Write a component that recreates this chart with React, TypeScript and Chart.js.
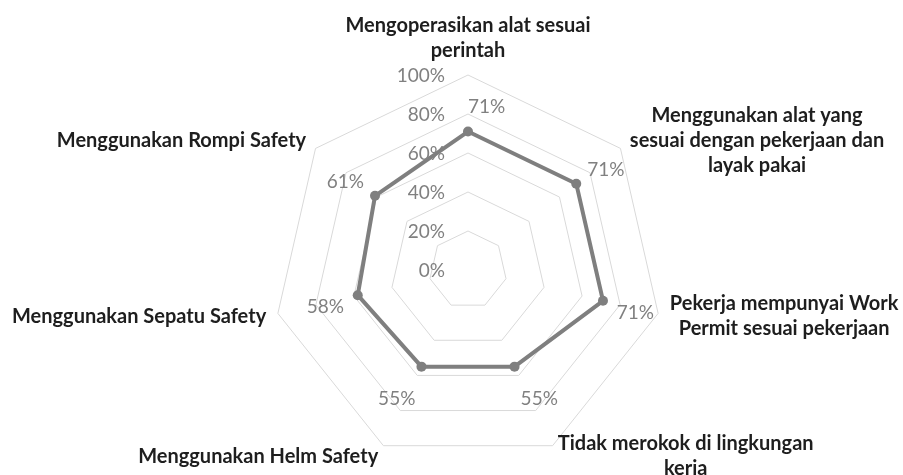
import React, { useEffect, useRef } from "react";
import { Chart, registerables } from "chart.js";

Chart.register(...registerables);

// ---- data ----
const categories: string[][] = [
  ["Mengoperasikan alat sesuai", "perintah"],
  ["Menggunakan alat yang", "sesuai dengan pekerjaan dan", "layak pakai"],
  ["Pekerja mempunyai Work", "Permit sesuai pekerjaan"],
  ["Tidak merokok di lingkungan", "kerja"],
  ["Menggunakan Helm Safety"],
  ["Menggunakan Sepatu Safety"],
  ["Menggunakan Rompi Safety"],
];
const values: number[] = [71, 71, 71, 55, 55, 58, 61];
const axisMin = 0;
const axisMax = 100;
const axisStep = 20;
const tickSuffix = "%";

// ---- styles ----
const LINE_COLOR = "#7f7f7f";
const TEXT_GREY = "#808080";
const LABEL_COLOR = "#1e1e1e";
const GRID_COLOR = "#d9d9d9";
const LABEL_FONT = "bold 20px Lato";
const LABEL_LINE_HEIGHT = 25;
const SMALL_FONT = "19px Lato";

const tickLabelPlugin = {
  id: "tickLabelsLeft",
  afterDraw(chart: any) {
    const scale = chart.scales.r;
    const ctx = chart.ctx;
    ctx.save();
    ctx.font = SMALL_FONT;
    ctx.fillStyle = TEXT_GREY;
    ctx.textAlign = "right";
    ctx.textBaseline = "middle";
    scale.ticks.forEach((t: any) => {
      const d = scale.getDistanceFromCenterForValue(t.value);
      ctx.fillText(t.label, scale.xCenter - 23, scale.yCenter - d + 1);
    });
    ctx.restore();
  },
};

const pointLabelPlugin = {
  id: "pointLabelsCentered",
  afterDraw(chart: any) {
    const scale = chart.scales.r;
    const ctx = chart.ctx;
    const labels: string[][] = chart.data.labels;
    ctx.save();
    ctx.font = LABEL_FONT;
    ctx.fillStyle = LABEL_COLOR;
    ctx.textAlign = "center";
    ctx.textBaseline = "middle";
    labels.forEach((lines, i) => {
      const p = scale.getPointPosition(i, scale.drawingArea + 12);
      const dx = Math.cos(p.angle);
      const dy = Math.sin(p.angle);
      const w = Math.max(...lines.map((l) => ctx.measureText(l).width));
      const h = lines.length * LABEL_LINE_HEIGHT;
      let cx = p.x;
      if (dx > 0.05) cx = p.x + w / 2;
      else if (dx < -0.05) cx = p.x - w / 2;
      let top = p.y - h / 2;
      if (dy < -0.95) top = p.y - h;
      else if (dy > 0.95) top = p.y;
      lines.forEach((l, k) => {
        ctx.fillText(l, cx, top + LABEL_LINE_HEIGHT * (k + 0.5));
      });
    });
    ctx.restore();
  },
};

const dataLabelPlugin = {
  id: "dataLabelsRadar",
  afterDatasetsDraw(chart: any) {
    const ctx = chart.ctx;
    const meta = chart.getDatasetMeta(0);
    const data = chart.data.datasets[0].data;
    ctx.save();
    ctx.font = SMALL_FONT;
    ctx.fillStyle = TEXT_GREY;
    ctx.textBaseline = "middle";
    meta.data.forEach((pt: any, i: number) => {
      const ang = pt.angle !== undefined ? pt.angle : 0;
      const props = pt.getProps(["x", "y", "angle"], true);
      const a = props.angle ?? ang;
      const dx = Math.cos(a);
      const dy = Math.sin(a);
      ctx.textAlign = dx >= -0.05 ? "left" : "right";
      ctx.fillText(data[i] + tickSuffix, props.x + 14 * dx, props.y + 30 * dy + 5);
    });
    ctx.restore();
  },
};

export default function App() {
  const ref = useRef<HTMLCanvasElement | null>(null);
  useEffect(() => {
    document.body.style.margin = "0";
    if (!ref.current) return;
    const chart = new Chart(ref.current, {
      type: "radar",
      data: {
        labels: categories as any,
        datasets: [
          {
            data: values,
            borderColor: LINE_COLOR,
            backgroundColor: LINE_COLOR,
            borderWidth: 4,
            borderJoinStyle: "round",
            pointRadius: 5,
            pointBackgroundColor: LINE_COLOR,
            pointBorderColor: LINE_COLOR,
            pointBorderWidth: 0,
            fill: false,
            tension: 0,
          },
        ],
      },
      options: {
        animation: false,
        responsive: true,
        maintainAspectRatio: false,
        layout: { padding: { top: 75, bottom: 10, left: 33, right: 0 } },
        plugins: { legend: { display: false }, tooltip: { enabled: false } },
        scales: {
          r: {
            min: axisMin,
            max: axisMax,
            ticks: {
              stepSize: axisStep,
              display: false,
              callback: (v: any) => v + tickSuffix,
            },
            grid: { color: GRID_COLOR, lineWidth: 1 },
            angleLines: { display: false },
            pointLabels: { display: false },
          },
        },
      },
      plugins: [tickLabelPlugin, pointLabelPlugin, dataLabelPlugin],
    });
    return () => chart.destroy();
  }, []);
  return (
    <div style={{ width: 903, height: 475, position: "relative", background: "#fff" }}>
      <canvas ref={ref} />
    </div>
  );
}
